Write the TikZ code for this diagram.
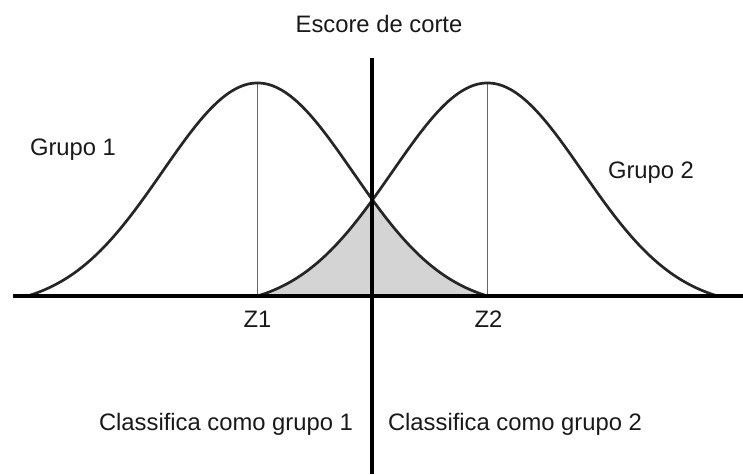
\documentclass[tikz,border=0pt]{standalone}
\usepackage{fontspec}
\setmainfont{Liberation Sans}
\begin{document}
\begin{tikzpicture}[x=1pt,y=-1pt,
  declare function={g(\u,\m)=296-213*(exp(-0.5*((\u-\m)/95)^2)-0.0534)/0.9466;},
  lbl/.style={font=\fontsize{23.8}{28}\selectfont, text=black!90, inner sep=0pt, anchor=base},
  curve/.style={line width=2.7pt, black!85},
  axisline/.style={line width=4pt, black},
  cutline/.style={line width=3.5pt, black},
  zline/.style={line width=1.5pt, black!60},
  shade/.style={fill=black!17}]
\useasboundingbox (0,0) rectangle (743,474);
% shaded overlap
\fill[shade] (257.5,296) -- plot[domain=257.5:372, samples=60, smooth] (\x,{g(\x,487.5)})
  -- plot[domain=372:487.5, samples=60, smooth] (\x,{g(\x,257.5)}) -- cycle;
% coordinates
\coordinate (p1) at (257.5,83);
\coordinate (b1) at (257.5,296);
\coordinate (p2) at (487.5,83);
\coordinate (b2) at (487.5,296);
\coordinate (axL) at (13,296);
\coordinate (axR) at (743,296);
\coordinate (cutT) at (372,58);
\coordinate (cutB) at (372,474);
% thin vertical lines at the means
\draw[zline] (p1) -- (b1);
\draw[zline] (p2) -- (b2);
% bell curves
\draw[curve] plot[domain=27.5:487.5, samples=140, smooth] (\x,{g(\x,257.5)});
\draw[curve] plot[domain=257.5:717.5, samples=140, smooth] (\x,{g(\x,487.5)});
% axes
\draw[axisline] (axL) -- (axR);
\draw[cutline] (cutT) -- (cutB);
% labels
\node[lbl] (title) at (379,32) {Escore de corte};
\node[lbl] (g1) at (73,155) {Grupo 1};
\node[lbl] (g2) at (651,178) {Grupo 2};
\node[lbl] (z1) at (257.5,327) {Z1};
\node[lbl] (z2) at (488.5,327) {Z2};
\node[lbl] (c1) at (226,430) {Classifica como grupo 1};
\node[lbl] (c2) at (515,430) {Classifica como grupo 2};
\end{tikzpicture}
\end{document}
